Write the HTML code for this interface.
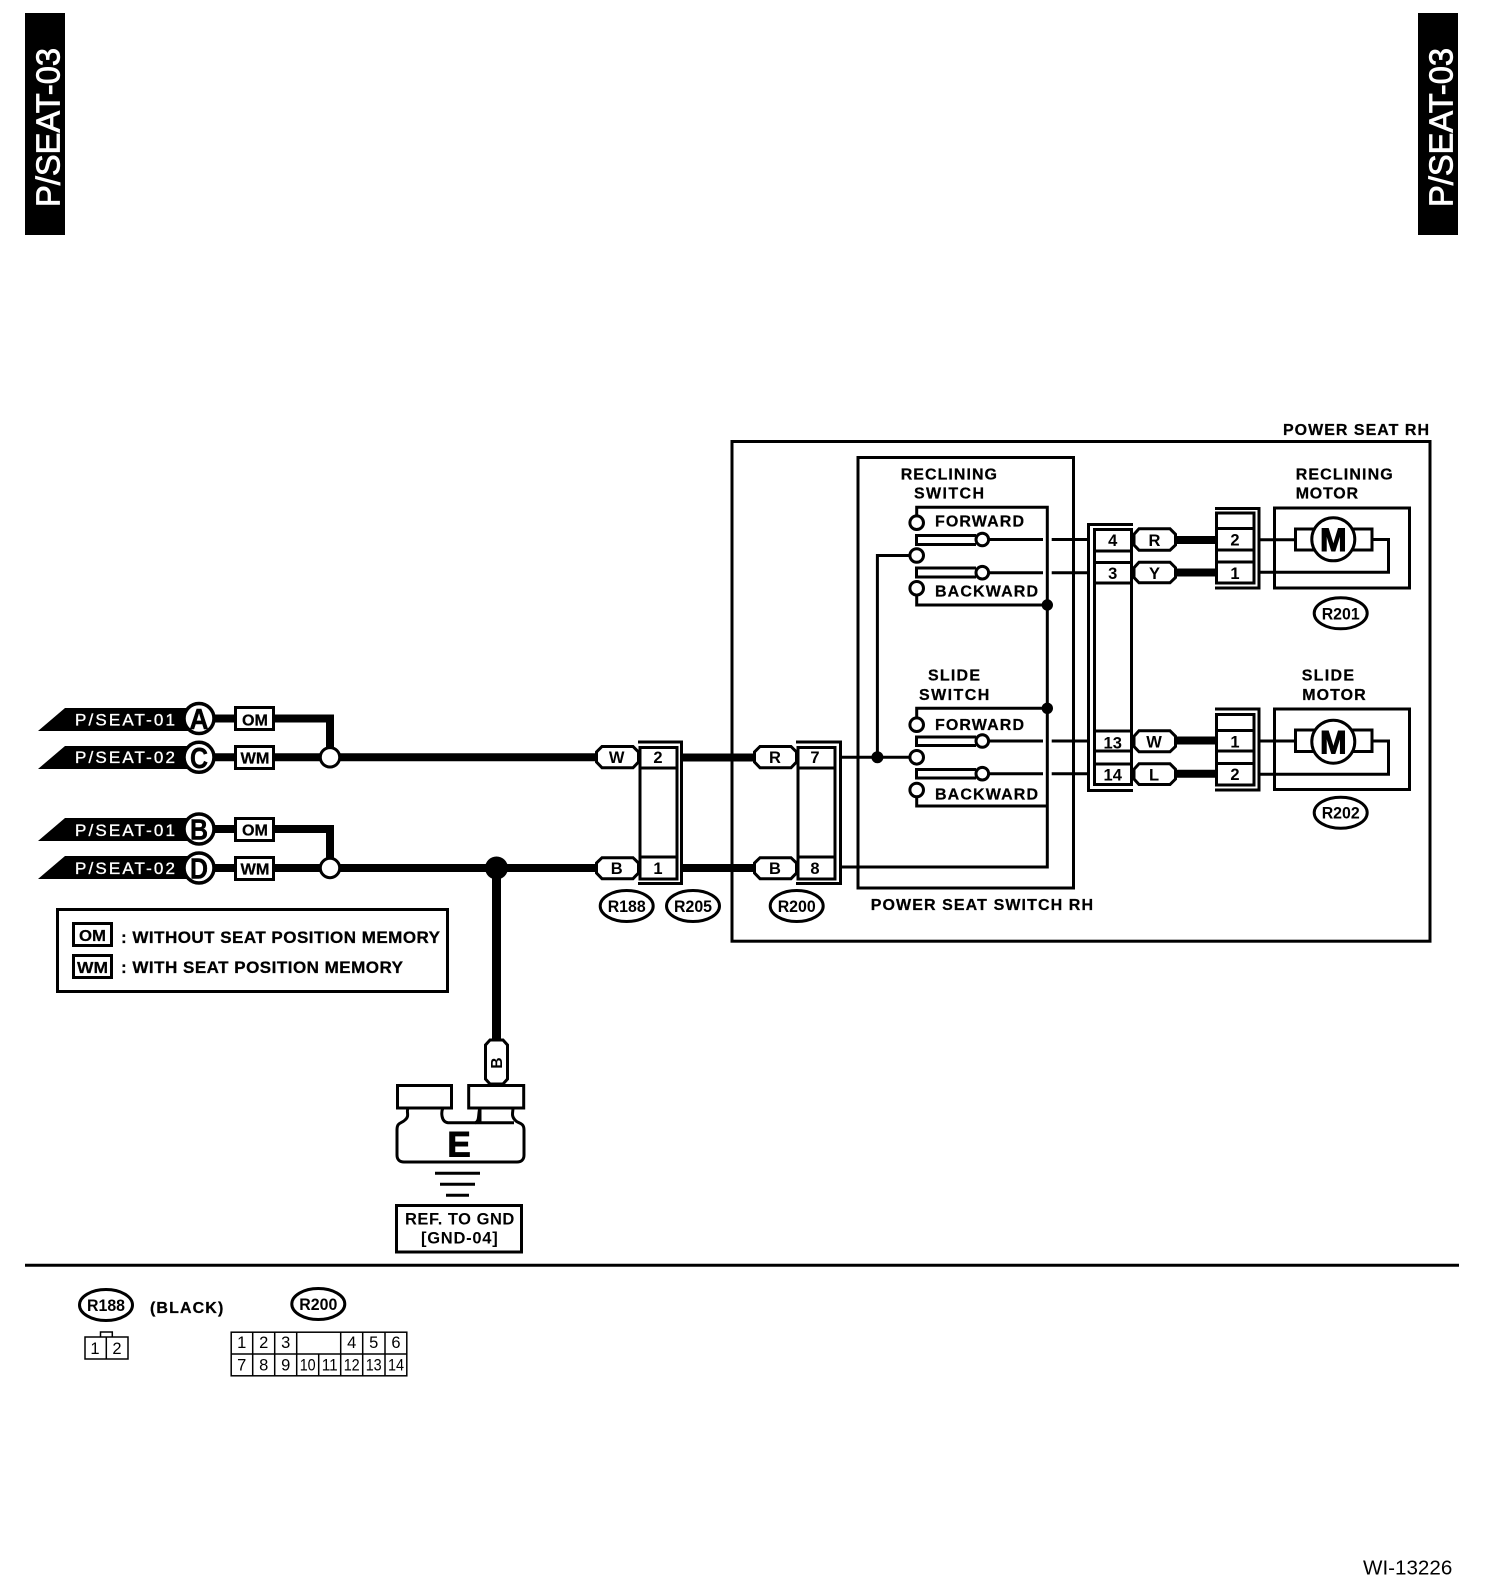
<!DOCTYPE html>
<html><head><meta charset="utf-8"><style>
html,body{margin:0;padding:0;background:#fff;width:1504px;height:1592px;overflow:hidden}
svg{display:block}
text{font-family:"Liberation Sans",sans-serif;fill:#000}
.b{font-weight:700;font-size:16px;stroke:#000;stroke-width:.25}
.c{font-weight:700;font-size:16.5px;text-anchor:middle}
.e{font-weight:700;font-size:17px;text-anchor:middle}
.n{font-size:16.5px;text-anchor:middle}
.t{font-size:17px;fill:#fff;stroke:#fff;stroke-width:.35}
.l{font-weight:700;font-size:29px;text-anchor:middle;stroke:#000;stroke-width:.5}
.w{fill:none;stroke:#000;stroke-width:3}
.f{fill:#fff;stroke:#000;stroke-width:3}
.h{fill:none;stroke:#000;stroke-width:8}
.d{fill:#000}
</style></head><body>
<svg width="1504" height="1592" viewBox="0 0 1504 1592" xmlns="http://www.w3.org/2000/svg">
<rect width="1504" height="1592" fill="#fff"/>

<!-- side tabs -->
<rect x="25" y="13" width="40" height="222" fill="#000"/>
<rect x="1418" y="13" width="40" height="222" fill="#000"/>
<text transform="translate(59.3 207) rotate(-90)" textLength="159" lengthAdjust="spacingAndGlyphs" style="font-size:33px;fill:#fff;stroke:#fff;stroke-width:.8">P/SEAT-03</text>
<text transform="translate(1452.3 207) rotate(-90)" textLength="159" lengthAdjust="spacingAndGlyphs" style="font-size:33px;fill:#fff;stroke:#fff;stroke-width:.8">P/SEAT-03</text>

<!-- power seat boxes -->
<rect class="w" x="732" y="441.5" width="698" height="499.7"/>
<rect class="w" x="858" y="457.5" width="215.5" height="430.5"/>
<text class="b" x="1283" y="435" textLength="146">POWER SEAT RH</text>
<text class="b" x="870.7" y="910" textLength="222.3">POWER SEAT SWITCH RH</text>

<!-- left thick wiring -->
<path class="h" d="M215 718.5H234M275 718.5H330V750M215 757.3H234M275 757.3H596M215 829H234M275 829H330V860M215 868H234M275 868H596"/>
<path class="h" d="M496.5 868V1042" style="stroke-width:9"/>
<circle cx="496.5" cy="868" r="11.5" class="d"/>
<circle class="f" cx="330" cy="757.3" r="9.7"/>
<circle class="f" cx="330" cy="868" r="9.7"/>

<!-- tags -->
<path class="d" d="M38 731L65 708H190V731Z"/>
<path class="d" d="M38 769L65 746H190V769Z"/>
<path class="d" d="M38 841L65 818H190V841Z"/>
<path class="d" d="M38 879L65 856H190V879Z"/>
<text class="t" x="75" y="725.7" textLength="100">P/SEAT-01</text>
<text class="t" x="75" y="763" textLength="100">P/SEAT-02</text>
<text class="t" x="75" y="836" textLength="100">P/SEAT-01</text>
<text class="t" x="75" y="874" textLength="100">P/SEAT-02</text>
<g fill="#fff" stroke="#000" stroke-width="3.5">
<circle cx="199" cy="718.5" r="15"/><circle cx="199" cy="757.3" r="15"/><circle cx="199" cy="829" r="15"/><circle cx="199" cy="868" r="15"/>
</g>
<text class="l" x="199" y="729" textLength="19" lengthAdjust="spacingAndGlyphs">A</text>
<text class="l" x="199" y="767.8" textLength="18" lengthAdjust="spacingAndGlyphs">C</text>
<text class="l" x="199" y="839.5" textLength="18" lengthAdjust="spacingAndGlyphs">B</text>
<text class="l" x="199" y="878.5" textLength="18" lengthAdjust="spacingAndGlyphs">D</text>
<rect class="f" x="235.5" y="707.5" width="38" height="22"/>
<rect class="f" x="235.5" y="746.5" width="38" height="22"/>
<rect class="f" x="235.5" y="818.5" width="38" height="22"/>
<rect class="f" x="235.5" y="857.5" width="38" height="22"/>
<text class="b" x="242" y="725.5" textLength="26" lengthAdjust="spacingAndGlyphs">OM</text>
<text class="b" x="240.5" y="763.5" textLength="29" lengthAdjust="spacingAndGlyphs">WM</text>
<text class="b" x="242" y="835.5" textLength="26" lengthAdjust="spacingAndGlyphs">OM</text>
<text class="b" x="240.5" y="874.5" textLength="29" lengthAdjust="spacingAndGlyphs">WM</text>

<!-- legend -->
<rect class="w" x="57.5" y="909.5" width="390" height="82"/>
<rect class="w" x="73.5" y="923.5" width="38" height="22"/>
<rect class="w" x="73.5" y="955.5" width="38" height="22"/>
<text class="b" x="79" y="941" textLength="27" lengthAdjust="spacingAndGlyphs">OM</text>
<text class="b" x="77" y="973" textLength="31" lengthAdjust="spacingAndGlyphs">WM</text>
<text style="font-weight:700;font-size:17px;stroke:#000;stroke-width:.3" x="121" y="943" textLength="319">: WITHOUT SEAT POSITION MEMORY</text>
<text style="font-weight:700;font-size:17px;stroke:#000;stroke-width:.3" x="121" y="973" textLength="282">: WITH SEAT POSITION MEMORY</text>

<!-- middle connectors thick wires -->
<path class="h" d="M682 757.5H754M682 868H754"/>
<path class="w" d="M841 757.3H910M841 867H1047.3V507.3H916.7V516M877.4 757.3V555.5H910"/>

<!-- connector 2/1 -->
<rect class="f" x="640" y="747.5" width="37" height="131.5"/>
<path class="w" d="M640 768H677M640 857H677M638 742H681.5V883.5H638"/>
<text class="c" x="658" y="763">2</text><text class="c" x="658" y="874">1</text>
<!-- connector 7/8 -->
<rect class="f" x="798" y="747.5" width="37" height="131.5"/>
<path class="w" d="M798 768H835M798 857H835M796 742H840.5V883.5H796"/>
<text class="c" x="815" y="763">7</text><text class="c" x="815" y="874">8</text>

<!-- pills -->
<g fill="#fff" stroke="#000" stroke-width="3">
<path d="M602 746.5H633L638.5 752V762L633 767.8H602L596.5 762V752Z"/>
<path d="M602 857.7H633L638.5 863V873L633 878.7H602L596.5 873V863Z"/>
<path d="M760 746.5H791L796.5 752V762L791 767.8H760L754.5 762V752Z"/>
<path d="M760 857.7H791L796.5 863V873L791 878.7H760L754.5 873V863Z"/>
<path d="M1139 528.8H1170L1175.5 534.3V545L1170 550.2H1139L1134 545V534.3Z"/>
<path d="M1139 562.2H1170L1175.5 567.7V577.5L1170 582.8H1139L1134 577.5V567.7Z"/>
<path d="M1139 730.8H1170L1175.5 736.3V746.5L1170 751.8H1139L1134 746.5V736.3Z"/>
<path d="M1139 763.8H1170L1175.5 769.3V779L1170 784.5H1139L1134 779V769.3Z"/>
</g>
<text class="c" x="616.7" y="763">W</text><text class="c" x="616.7" y="874">B</text>
<text class="c" x="775" y="763">R</text><text class="c" x="775" y="874">B</text>
<text class="c" x="1154.5" y="546">R</text><text class="c" x="1154.5" y="579">Y</text>
<text class="c" x="1154" y="747.5">W</text><text class="c" x="1154" y="780.5">L</text>

<ellipse class="w" cx="626.7" cy="906" rx="26.5" ry="15.5"/>
<ellipse class="w" cx="693" cy="906" rx="26.5" ry="15.5"/>
<ellipse class="w" cx="796.7" cy="906" rx="26.5" ry="15.5"/>
<text class="e" x="626.7" y="912" textLength="38" lengthAdjust="spacingAndGlyphs">R188</text>
<text class="e" x="693" y="912" textLength="38" lengthAdjust="spacingAndGlyphs">R205</text>
<text class="e" x="796.7" y="912" textLength="38" lengthAdjust="spacingAndGlyphs">R200</text>

<!-- reclining switch -->
<text class="b" x="900.7" y="479.3" textLength="96.3">RECLINING</text>
<text class="b" x="914" y="498.7" textLength="70">SWITCH</text>
<text class="b" x="935" y="526.7" textLength="89">FORWARD</text>
<text class="b" x="935" y="596.7" textLength="103">BACKWARD</text>
<path class="w" d="M916.7 595V605H1047.3"/>
<path class="w" d="M976 535.5H916.5V544.5H976M976 568H916.5V577H976"/>
<path class="w" d="M989 539.5H1043M1051.7 539.5H1089M989 572.7H1043M1051.7 572.7H1089"/>
<circle class="f" cx="916.7" cy="522.7" r="6.8"/>
<circle class="f" cx="916.7" cy="555.5" r="6.8"/>
<circle class="f" cx="916.7" cy="588.3" r="6.8"/>
<circle class="f" cx="982.3" cy="539.5" r="6.3"/>
<circle class="f" cx="982.3" cy="572.7" r="6.3"/>
<circle class="d" cx="1047.3" cy="605" r="5.7"/>

<!-- slide switch -->
<text class="b" x="928" y="680.7" textLength="52">SLIDE</text>
<text class="b" x="919" y="700" textLength="70.3">SWITCH</text>
<text class="b" x="935" y="730" textLength="89">FORWARD</text>
<text class="b" x="935" y="799.3" textLength="103">BACKWARD</text>
<path class="w" d="M916.7 717V708.3H1047.3"/>
<path class="w" d="M916.7 796V806H1047.3"/>
<path class="w" d="M976 737H916.5V745.5H976M976 769.5H916.5V778H976"/>
<path class="w" d="M989 741H1043M1051.7 741H1089M989 773.7H1043M1051.7 773.7H1089"/>
<circle class="f" cx="916.7" cy="724.7" r="6.8"/>
<circle class="f" cx="916.7" cy="757.3" r="6.8"/>
<circle class="f" cx="916.7" cy="790" r="6.8"/>
<circle class="f" cx="982.3" cy="741" r="6.3"/>
<circle class="f" cx="982.3" cy="773.7" r="6.3"/>
<circle class="d" cx="1047.3" cy="708.3" r="5.7"/>
<circle class="d" cx="877.4" cy="757.3" r="6"/>

<!-- big right connector -->
<path class="w" d="M1133 524.5H1088.5V790.5H1133"/>
<path class="w" d="M1131.5 529.5H1094.5V784.5H1131.5ZM1094.5 551H1131.5M1094.5 562.5H1131.5M1094.5 583H1131.5M1094.5 731H1131.5M1094.5 751H1131.5M1094.5 764H1131.5"/>
<text class="c" x="1112.7" y="546">4</text><text class="c" x="1112.7" y="579">3</text>
<text class="c" x="1112.7" y="748.3">13</text><text class="c" x="1112.7" y="780.7">14</text>

<!-- thick right wires -->
<path class="h" d="M1176 540H1216M1176 572.5H1216M1176 740.5H1216M1176 773.7H1216"/>

<!-- motor connector upper -->
<rect class="f" x="1216.5" y="513" width="37.5" height="70"/>
<path class="w" d="M1216.5 528.5H1254M1216.5 550H1254M1216.5 562H1254M1215 508.5H1259V588H1215"/>
<text class="c" x="1235" y="545.7">2</text><text class="c" x="1235" y="579">1</text>
<!-- motor connector lower -->
<rect class="f" x="1216.5" y="714.5" width="37.5" height="70.5"/>
<path class="w" d="M1216.5 730.5H1254M1216.5 751H1254M1216.5 763.5H1254M1215 709H1259V790H1215"/>
<text class="c" x="1235" y="747.7">1</text><text class="c" x="1235" y="780">2</text>

<!-- motors -->
<text class="b" x="1295.7" y="479.3" textLength="97">RECLINING</text>
<text class="b" x="1295.7" y="498.7" textLength="62.3">MOTOR</text>
<text class="b" x="1301.7" y="680.7" textLength="52.3">SLIDE</text>
<text class="b" x="1302.3" y="700" textLength="63.4">MOTOR</text>
<rect class="w" x="1274.5" y="508" width="135" height="80"/>
<rect class="w" x="1274.5" y="709" width="135" height="80.5"/>
<path class="w" d="M1259 539.7H1296M1259 572.3H1388.5V539.5H1372M1259 741H1296M1259 774.3H1388.5V741H1372"/>
<rect class="f" x="1295.5" y="529" width="76.5" height="21"/>
<rect class="f" x="1295.5" y="730" width="76.5" height="21.5"/>
<circle class="f" cx="1333.3" cy="539.3" r="21.5"/>
<circle class="f" cx="1333.3" cy="741.7" r="21.5"/>
<text x="1333.3" y="551" style="font-weight:700;font-size:32px;text-anchor:middle;stroke:#000;stroke-width:1">M</text>
<text x="1333.3" y="753.3" style="font-weight:700;font-size:32px;text-anchor:middle;stroke:#000;stroke-width:1">M</text>
<ellipse class="w" cx="1340.7" cy="613.3" rx="26.5" ry="15.5"/>
<ellipse class="w" cx="1340.7" cy="812.7" rx="26.5" ry="15.5"/>
<text class="e" x="1340.7" y="619.3" textLength="38" lengthAdjust="spacingAndGlyphs">R201</text>
<text class="e" x="1340.7" y="818.5" textLength="38" lengthAdjust="spacingAndGlyphs">R202</text>

<!-- ground -->
<path class="f" d="M490 1040H503L507.5 1045V1079L503 1084H490L485.5 1079V1045Z"/>
<text transform="translate(502 1063) rotate(-90)" style="font-weight:700;font-size:15.5px;text-anchor:middle">B</text>
<path class="f" d="M408 1108C406 1112 410 1116 405 1120C401 1124 397 1122 397 1130V1155C397 1160 400 1162 404 1162H517C521 1162 524 1160 524 1155V1130C524 1122 518 1124 515 1120C511 1116 513 1112 513 1108H480C478 1112 480 1122 475 1122.7H448C441 1122 441 1112 443 1108Z"/>
<path class="w" d="M475 1122.7H514M480 1108V1122"/>
<rect class="f" x="397.5" y="1085.5" width="54" height="22.5"/>
<rect class="f" x="468.7" y="1085.5" width="55" height="22.5"/>
<text x="459" y="1156.7" style="font-weight:700;font-size:35px;text-anchor:middle;stroke:#000;stroke-width:1">E</text>
<path class="w" d="M435 1173.3H480M440 1184.3H475M446 1195.3H469"/>
<rect class="w" x="396.5" y="1205.5" width="125" height="46.5"/>
<text style="font-weight:700;font-size:16.5px" x="405" y="1224.3" textLength="109.3">REF. TO GND</text>
<text style="font-weight:700;font-size:16.5px" x="421" y="1243.3" textLength="76.7">[GND-04]</text>

<!-- divider -->
<path d="M25 1265.3H1459" stroke="#000" stroke-width="3" fill="none"/>

<!-- bottom -->
<ellipse class="w" cx="106" cy="1305" rx="26.5" ry="15.5"/>
<text class="e" x="106" y="1311" textLength="38" lengthAdjust="spacingAndGlyphs">R188</text>
<text class="b" x="150" y="1313" textLength="73.3">(BLACK)</text>
<ellipse class="w" cx="318.3" cy="1304" rx="26.5" ry="15.5"/>
<text class="e" x="318.3" y="1310" textLength="38" lengthAdjust="spacingAndGlyphs">R200</text>

<g fill="none" stroke="#000" stroke-width="1.5">
<path d="M100.5 1336.7V1332H112.3V1336.7"/>
<rect x="85" y="1337" width="43" height="22"/>
<path d="M106.3 1337V1359"/>
<rect x="231.2" y="1332.2" width="175.6" height="43.6"/>
<path d="M231 1354H407M252.7 1332V1376M274.7 1332V1376M296.7 1332V1376M318.7 1354V1376M340.7 1332V1376M362.7 1332V1376M385 1332V1376"/>
</g>
<text class="n" x="95" y="1354">1</text><text class="n" x="117" y="1354">2</text>
<text class="n" x="241.7" y="1348">1</text><text class="n" x="263.7" y="1348">2</text><text class="n" x="285.7" y="1348">3</text>
<text class="n" x="351.7" y="1348">4</text><text class="n" x="373.7" y="1348">5</text><text class="n" x="396" y="1348">6</text>
<text class="n" x="241.7" y="1370.7">7</text><text class="n" x="263.7" y="1370.7">8</text><text class="n" x="285.7" y="1370.7">9</text>
<text class="n" x="307.7" y="1370.7" textLength="16" lengthAdjust="spacingAndGlyphs">10</text><text class="n" x="329.7" y="1370.7" textLength="16" lengthAdjust="spacingAndGlyphs">11</text><text class="n" x="351.7" y="1370.7" textLength="16" lengthAdjust="spacingAndGlyphs">12</text><text class="n" x="373.7" y="1370.7" textLength="16" lengthAdjust="spacingAndGlyphs">13</text><text class="n" x="396" y="1370.7" textLength="16" lengthAdjust="spacingAndGlyphs">14</text>

<text x="1363" y="1574.3" textLength="89.3" lengthAdjust="spacingAndGlyphs" style="font-size:20.5px">WI-13226</text>
</svg>
</body></html>
